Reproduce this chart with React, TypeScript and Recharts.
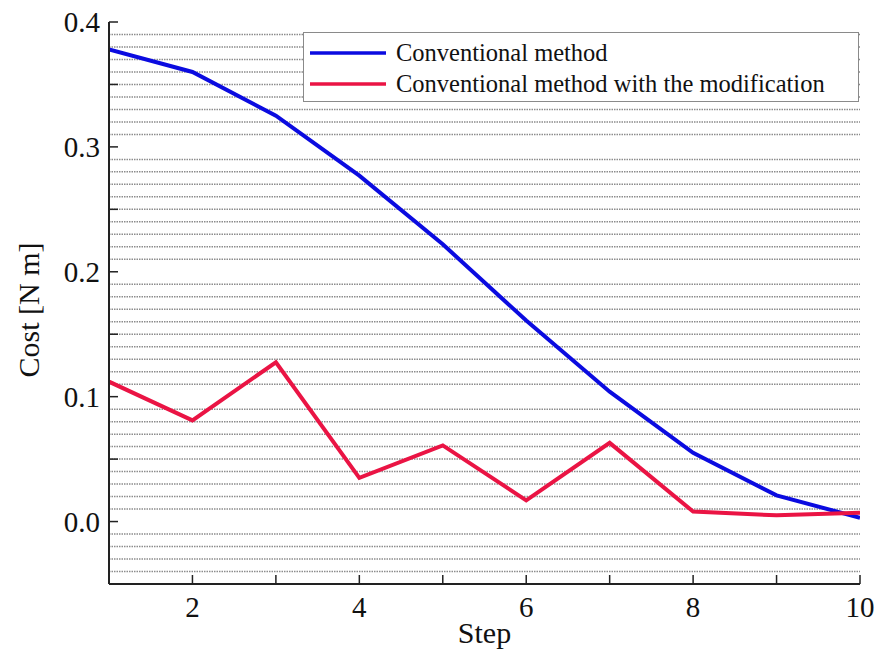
import React from "react";
import {
  CartesianGrid,
  Label,
  Legend,
  Line,
  LineChart,
  XAxis,
  YAxis,
} from "recharts";

const FONT = '"Liberation Serif", "Times New Roman", serif';

// values
const steps = [1, 2, 3, 4, 5, 6, 7, 8, 9, 10];
const conventional = [0.378, 0.36, 0.325, 0.277, 0.222, 0.161, 0.104, 0.055, 0.021, 0.003];
const modified = [0.112, 0.081, 0.1275, 0.035, 0.061, 0.017, 0.063, 0.008, 0.005, 0.007];

const xTicks = [2, 3, 4, 5, 6, 7, 8, 9, 10];
const topTicks = [2.25, 3.64, 5.03, 6.42, 7.81, 9.2];
const yTicks = [0, 0.05, 0.1, 0.15, 0.2, 0.25, 0.3, 0.35, 0.4];
const yLabels: Record<string, string> = { "0": "0.0", "0.1": "0.1", "0.2": "0.2", "0.3": "0.3", "0.4": "0.4" };

// dotted horizontal lines every 0.01, from -0.04 to 0.39
const gridRows = Array.from({ length: 44 }, (_, i) => (i - 4) / 100);

const data = steps.map((s, i) => ({
  step: s,
  conventional: conventional[i],
  modified: modified[i],
}));

const LegendBox = ({ payload }: any) => (
  <div
    style={{
      border: "1.5px solid #8a8a8a",
      background: "#fff",
      width: 556,
      height: 70,
      boxSizing: "border-box",
      padding: "4px 0 0 6px",
      fontFamily: FONT,
      fontSize: 24.5,
      color: "#111",
    }}
  >
    {(payload || []).map((e: any) => (
      <div key={e.value} style={{ display: "flex", alignItems: "center", height: 31 }}>
        <svg width={76} height={6} style={{ marginRight: 10 }}>
          <line x1={0} y1={3} x2={76} y2={3} stroke={e.color} strokeWidth={3.5} />
        </svg>
        <span style={{ lineHeight: "31px" }}>{e.value}</span>
      </div>
    ))}
  </div>
);

const YTitle = ({ viewBox }: any) => {
  const cx = 28;
  const cy = viewBox.y + viewBox.height / 2 + 7;
  return (
    <text
      x={cx}
      y={cy}
      transform={`rotate(-90, ${cx}, ${cy})`}
      textAnchor="middle"
      dominantBaseline="central"
      fontFamily={FONT}
      fontSize={30}
      fill="#111"
    >
      Cost [N m]
    </text>
  );
};

export default function App() {
  return (
    <div style={{ position: "absolute", left: 0, top: 0, background: "#fff" }}>
      <LineChart
        width={881}
        height={652}
        data={data}
        margin={{ top: 22, right: 21, left: 0, bottom: 0 }}
      >
        <CartesianGrid
          vertical={false}
          horizontalValues={gridRows}
          stroke="#8c8c8c"
          strokeWidth={1.5}
          strokeDasharray="1.5 1"
        />
        <XAxis
          dataKey="step"
          type="number"
          domain={[1, 10]}
          ticks={xTicks}
          allowDataOverflow
          height={68}
          tickSize={-9}
          tickMargin={21}
          tickFormatter={(v: number) => (v % 2 === 0 ? String(v) : "")}
          tick={{ fontSize: 29, fill: "#111", fontFamily: FONT }}
          axisLine={{ stroke: "#222", strokeWidth: 2 }}
          tickLine={{ stroke: "#222", strokeWidth: 1.5 }}
        >
          <Label value="Step" position="insideBottom" offset={9} fontSize={30} fill="#111" fontFamily={FONT} />
        </XAxis>
        <XAxis
          xAxisId="top"
          dataKey="step"
          type="number"
          orientation="top"
          domain={[1, 10]}
          ticks={topTicks}
          allowDataOverflow
          height={0}
          tickSize={-9}
          tick={false}
          axisLine={{ stroke: "#222", strokeWidth: 2 }}
          tickLine={{ stroke: "#222", strokeWidth: 1.5 }}
        />
        <YAxis
          type="number"
          domain={[-0.05, 0.4]}
          ticks={yTicks}
          allowDataOverflow
          width={109}
          tickSize={-9}
          tickMargin={18}
          tickFormatter={(v: number) => yLabels[String(Math.round(v * 100) / 100)] ?? ""}
          tick={{ fontSize: 29, fill: "#111", fontFamily: FONT }}
          axisLine={{ stroke: "#222", strokeWidth: 2 }}
          tickLine={{ stroke: "#222", strokeWidth: 1.5 }}
          label={<YTitle />}
        />
        <YAxis
          yAxisId="right"
          orientation="right"
          domain={[-0.05, 0.4]}
          width={0}
          tick={false}
          tickLine={false}
          axisLine={{ stroke: "#222", strokeWidth: 2 }}
        />
        <Legend
          layout="vertical"
          align="center"
          verticalAlign="middle"
          content={<LegendBox />}
          wrapperStyle={{ left: 303, top: 32, width: 556 }}
        />
        <Line
          type="linear"
          dataKey="conventional"
          name="Conventional method"
          stroke="#0b0be0"
          strokeWidth={4}
          dot={false}
          isAnimationActive={false}
        />
        <Line
          type="linear"
          dataKey="modified"
          name="Conventional method with the modification"
          stroke="#ea1444"
          strokeWidth={4}
          dot={false}
          isAnimationActive={false}
        />
      </LineChart>
    </div>
  );
}
